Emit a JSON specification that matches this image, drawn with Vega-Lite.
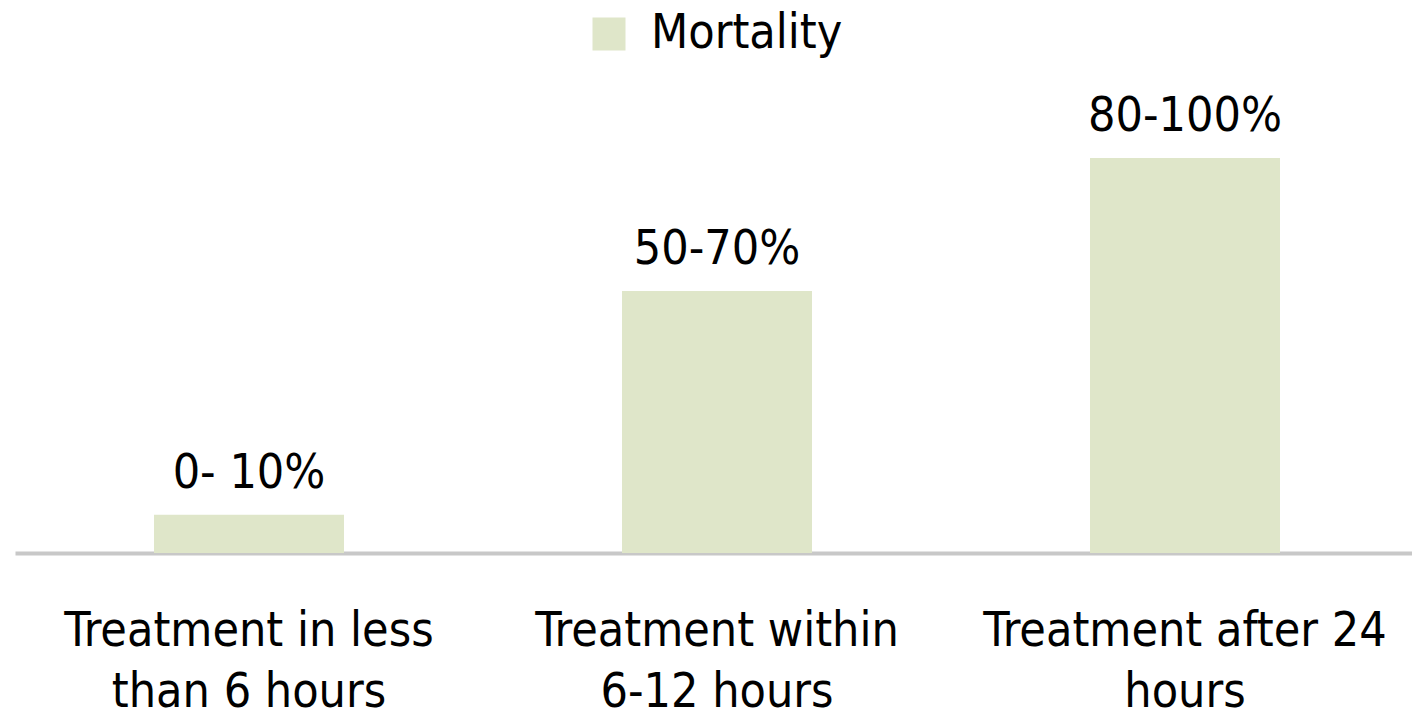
{
  "$schema": "https://vega.github.io/schema/vega-lite/v6.json",
  "width": 1404,
  "height": 553,
  "padding": {"left": 15, "top": 0, "right": 0, "bottom": 161},
  "autosize": {"type": "none"},
  "background": "white",
  "config": {"view": {"stroke": null}, "font": "DejaVu Sans Condensed"},
  "data": {"values": [
    {"category": "Treatment in less than 6 hours", "value": 8.7, "label": "0- 10%", "series": "Mortality"},
    {"category": "Treatment within 6-12 hours", "value": 59.7, "label": "50-70%", "series": "Mortality"},
    {"category": "Treatment after 24 hours", "value": 90, "label": "80-100%", "series": "Mortality"}
  ]},
  "encoding": {
    "x": {"field": "category", "type": "nominal", "sort": null,
      "scale": {"paddingInner": 0.594, "paddingOuter": 0.297},
      "axis": {"title": null, "labelAngle": 0, "ticks": false, "domainColor": "#c8c8c8", "domainWidth": 4,
        "labelFont": "DejaVu Sans Condensed", "labelFontSize": 48, "labelColor": "#000000", "labelPadding": 54,
        "labelLineHeight": 61, "labelLimit": 0, "labelBaseline": "top",
        "labelExpr": "datum.value == 'Treatment in less than 6 hours' ? ['Treatment in less', 'than 6 hours'] : datum.value == 'Treatment within 6-12 hours' ? ['Treatment within', '6-12 hours'] : ['Treatment after 24', 'hours']"}},
    "y": {"field": "value", "type": "quantitative", "scale": {"domain": [0, 126]}, "axis": null}
  },
  "layer": [
    {"mark": {"type": "bar", "color": "#dfe6c9"},
     "encoding": {"color": {"field": "series", "type": "nominal", "scale": {"range": ["#dfe6c9"]},
       "legend": {"title": null, "orient": "none", "legendX": 570, "legendY": 10, "symbolType": "square", "symbolSize": 1089,
         "symbolStrokeWidth": 0, "labelFontSize": 48, "labelFont": "DejaVu Sans Condensed", "labelColor": "#000000", "labelOffset": 18, "labelLimit": 0}}}},
    {"mark": {"type": "text", "baseline": "alphabetic", "dy": -27, "fontSize": 48, "font": "DejaVu Sans Condensed", "color": "#000000"},
     "encoding": {"text": {"field": "label"}}}
  ]
}
